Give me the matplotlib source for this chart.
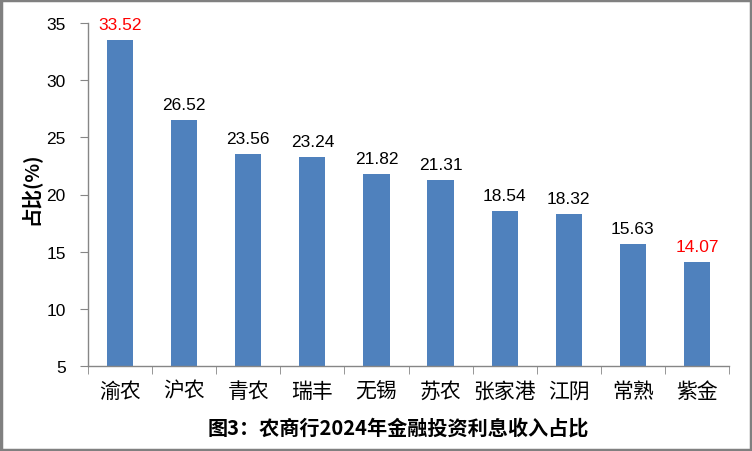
import matplotlib
matplotlib.use("Agg")
import matplotlib.pyplot as plt
from matplotlib.patches import Rectangle

plt.rcParams['font.family'] = ['Liberation Sans', 'Noto Sans CJK SC', 'DejaVu Sans']

categories = ["渝农", "沪农", "青农", "瑞丰", "无锡", "苏农", "张家港", "江阴", "常熟", "紫金"]
values = [33.52, 26.52, 23.56, 23.24, 21.82, 21.31, 18.54, 18.32, 15.63, 14.07]
label_colors = ["#FF0000"] + ["#000000"] * 8 + ["#FF0000"]
yticks = [5, 10, 15, 20, 25, 30, 35]
title = "图3：农商行2024年金融投资利息收入占比"
ylabel = "占比(%)"

fig = plt.figure(figsize=(7.52, 4.52), dpi=100)
ax = fig.add_axes([88/752, 1-367/452, (729-88)/752, (367-24)/452])

x = list(range(len(categories)))
bars = ax.bar(x, [v - 5 for v in values], bottom=5, width=0.41, color="#4F81BD", zorder=2)
for xi, v, c in zip(x, values, label_colors):
    ax.text(xi, v + 0.7, f"{v:.2f}", ha="center", va="bottom", fontsize=12.5, color=c)

ax.set_xlim(-0.5, len(categories) - 0.5)
ax.set_ylim(5, 35)
ax.set_yticks(yticks)
ax.set_yticklabels([str(t) for t in yticks], fontsize=12.5)
ax.set_xticks(x)
ax.set_xticklabels(categories, fontsize=15, family=['Noto Sans CJK SC'])
ax.set_xticks([i - 0.5 for i in range(len(categories) + 1)], minor=True)
ax.tick_params(axis="x", which="major", length=0, pad=10)
ax.tick_params(axis="x", which="minor", length=6, color="#868686", direction="out")
ax.tick_params(axis="y", length=6, color="#868686", direction="out", pad=10)
for s in ["top", "right"]:
    ax.spines[s].set_visible(False)
for s in ["left", "bottom"]:
    ax.spines[s].set_color("#868686")
    ax.spines[s].set_linewidth(1)

fig.text(30/752, 1-189/452, ylabel, rotation=90, ha="center", va="center",
         fontsize=14, fontweight="bold", family=['Noto Sans CJK SC'])
fig.text(398/752, 1-428/452, title, ha="center", va="center",
         fontsize=14.5, fontweight="bold", family=['Noto Sans CJK SC'])

fig.patches.append(Rectangle((0.0015, 0.0025), 0.997, 0.995, transform=fig.transFigure,
                             fill=False, edgecolor="#808080", linewidth=2.5))

fig.savefig("out.png", dpi=100)
